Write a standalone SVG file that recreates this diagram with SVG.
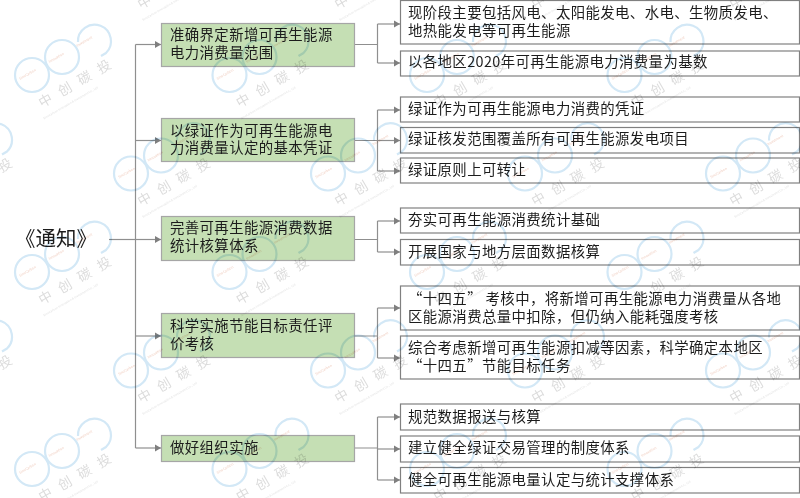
<svg xmlns="http://www.w3.org/2000/svg" xmlns:xlink="http://www.w3.org/1999/xlink" width="800" height="498" viewBox="0 0 800 498">
  <style>
    text { font-family: "Noto Sans CJK SC", "Noto Sans", sans-serif; fill: #1c1c1c; }
    .t { font-size: 14.4px; letter-spacing: 0.4px; }
    .root { font-size: 20.5px; }
    .green { fill: #c5dfb4; stroke: #a6a6a6; stroke-width: 1.2; }
    .leaf { fill: #ffffff; stroke: #808080; stroke-width: 1.2; }
    .wire { fill: none; stroke: #8f8f8f; stroke-width: 1.2; }
    .ring { fill: none; stroke: #d3e8f6; stroke-width: 2.2; }
    .mark { font-size: 13.500px; fill: #dcdcdc; letter-spacing: 9px; }
    .sub { font-size: 3px; fill: #e2e2e2; }
    .slogan { font-size: 3.400px; fill: #f0cfc2; }
    #stamps { mix-blend-mode: multiply; }
  </style>
  <defs>
    <marker id="head" markerUnits="userSpaceOnUse" markerWidth="8" markerHeight="8" refX="6.5" refY="4" orient="auto">
      <path d="M0 0.2L6.5 4L0 7.8Z" fill="#7f7f7f"/>
    </marker>
    <g id="stamp">
      <circle class="ring" cx="32" cy="75" r="17"/>
      <circle class="ring" cx="62" cy="57" r="17"/>
      <path class="ring" d="M78 42A16.5 16.5 0 1 1 106 53L101 56"/>
      <g transform="translate(42 108) rotate(-30)">
        <text class="mark" x="0" y="0">中创碳投</text>
        <text class="sub" x="-4" y="11">SinoCarbon Innovation &amp; Investment Co., Ltd</text>
      </g>
      <g transform="translate(20 80) rotate(-30)">
        <text class="slogan" x="0" y="0">SinoCarbon</text>
        <text class="slogan" x="34" y="0">Innovation</text>
        <text class="slogan" x="66" y="0">Investment</text>
      </g>
    </g>
  </defs>

  <g id="connectors" class="wire">
    <path d="M109 239.500H135.500"/>
    <path d="M135.500 44.500V448"/>
    <path d="M135.500 44.500H161" marker-end="url(#head)"/>
    <path d="M135.500 140.500H161" marker-end="url(#head)"/>
    <path d="M135.500 239.500H161" marker-end="url(#head)"/>
    <path d="M135.500 336H161" marker-end="url(#head)"/>
    <path d="M135.500 448H161" marker-end="url(#head)"/>

    <path d="M354.500 44.500H377.500M377.500 24V63"/>
    <path d="M377.500 24H400" marker-end="url(#head)"/>
    <path d="M377.500 63H400" marker-end="url(#head)"/>

    <path d="M354.500 140.500H377.500M377.500 110V171"/>
    <path d="M377.500 110H400" marker-end="url(#head)"/>
    <path d="M377.500 140.500H400" marker-end="url(#head)"/>
    <path d="M377.500 171H400" marker-end="url(#head)"/>

    <path d="M354.500 239.500H377.500M377.500 221V252"/>
    <path d="M377.500 221H400" marker-end="url(#head)"/>
    <path d="M377.500 252H400" marker-end="url(#head)"/>

    <path d="M354.500 336H377.500M377.500 308V358"/>
    <path d="M377.500 308H400" marker-end="url(#head)"/>
    <path d="M377.500 358H400" marker-end="url(#head)"/>

    <path d="M354.500 448H377.500M377.500 417V480"/>
    <path d="M377.500 417H400" marker-end="url(#head)"/>
    <path d="M377.500 449H400" marker-end="url(#head)"/>
    <path d="M377.500 480H400" marker-end="url(#head)"/>
  </g>

  <g id="root"><text class="root" x="15" y="246">《通知》</text></g>

  <g id="topic-1"><rect class="green" x="161.500" y="23.500" width="193" height="43"/>
    <text class="t" x="170" y="40">准确界定新增可再生能源</text><text class="t" x="170" y="58">电力消费量范围</text></g>
  <g id="topic-2"><rect class="green" x="161.500" y="118.500" width="193" height="43"/>
    <text class="t" x="170" y="136">以绿证作为可再生能源电</text><text class="t" x="170" y="153">力消费量认定的基本凭证</text></g>
  <g id="topic-3"><rect class="green" x="161.500" y="216.500" width="193" height="44"/>
    <text class="t" x="170" y="233">完善可再生能源消费数据</text><text class="t" x="170" y="251">统计核算体系</text></g>
  <g id="topic-4"><rect class="green" x="161.500" y="313.500" width="193" height="44"/>
    <text class="t" x="170" y="331">科学实施节能目标责任评</text><text class="t" x="170" y="349">价考核</text></g>
  <g id="topic-5"><rect class="green" x="161.500" y="435.500" width="193" height="26"/>
    <text class="t" x="170" y="453">做好组织实施</text></g>

  <g id="leaf-1"><rect class="leaf" x="400.500" y="0.500" width="399" height="43.500"/>
    <text class="t" x="408" y="18">现阶段主要包括风电、太阳能发电、水电、生物质发电、</text><text class="t" x="408" y="36">地热能发电等可再生能源</text></g>
  <g id="leaf-2"><rect class="leaf" x="400.500" y="51" width="399" height="25"/>
    <text class="t" x="408" y="67">以各地区2020年可再生能源电力消费量为基数</text></g>
  <g id="leaf-3"><rect class="leaf" x="400.500" y="97" width="399" height="25"/>
    <text class="t" x="408" y="114">绿证作为可再生能源电力消费的凭证</text></g>
  <g id="leaf-4"><rect class="leaf" x="400.500" y="127.500" width="399" height="25.500"/>
    <text class="t" x="408" y="144">绿证核发范围覆盖所有可再生能源发电项目</text></g>
  <g id="leaf-5"><rect class="leaf" x="400.500" y="158" width="399" height="25"/>
    <text class="t" x="408" y="175">绿证原则上可转让</text></g>
  <g id="leaf-6"><rect class="leaf" x="400.500" y="208" width="399" height="25"/>
    <text class="t" x="408" y="225">夯实可再生能源消费统计基础</text></g>
  <g id="leaf-7"><rect class="leaf" x="400.500" y="239.500" width="399" height="25.500"/>
    <text class="t" x="408" y="257">开展国家与地方层面数据核算</text></g>
  <g id="leaf-8"><rect class="leaf" x="400.500" y="286" width="399" height="44"/>
    <text class="t" x="408" y="304">“十四五” 考核中，将新增可再生能源电力消费量从各地</text><text class="t" x="408" y="322">区能源消费总量中扣除，但仍纳入能耗强度考核</text></g>
  <g id="leaf-9"><rect class="leaf" x="400.500" y="336" width="399" height="43"/>
    <text class="t" x="408" y="353">综合考虑新增可再生能源扣减等因素，科学确定本地区</text><text class="t" x="408" y="371">“十四五”节能目标任务</text></g>
  <g id="leaf-10"><rect class="leaf" x="400.500" y="404" width="399" height="26"/>
    <text class="t" x="408" y="422">规范数据报送与核算</text></g>
  <g id="leaf-11"><rect class="leaf" x="400.500" y="436" width="399" height="26"/>
    <text class="t" x="408" y="453">建立健全绿证交易管理的制度体系</text></g>
  <g id="leaf-12"><rect class="leaf" x="400.500" y="467.500" width="399" height="25.500"/>
    <text class="t" x="408" y="485">健全可再生能源电量认定与统计支撑体系</text></g>

  <!-- repeating company stamp laid over the chart -->
  <g id="stamps">
    <use xlink:href="#stamp" href="#stamp" x="99" y="-98.500"/>
    <use xlink:href="#stamp" href="#stamp" x="296" y="-98.500"/>
    <use xlink:href="#stamp" href="#stamp" x="493" y="-98.500"/>
    <use xlink:href="#stamp" href="#stamp" x="691" y="-98.500"/>
    <use xlink:href="#stamp" href="#stamp" x="0" y="0"/>
    <use xlink:href="#stamp" href="#stamp" x="197.500" y="0"/>
    <use xlink:href="#stamp" href="#stamp" x="395" y="0"/>
    <use xlink:href="#stamp" href="#stamp" x="592.500" y="0"/>
    <use xlink:href="#stamp" href="#stamp" x="-99" y="98.500"/>
    <use xlink:href="#stamp" href="#stamp" x="99" y="98.500"/>
    <use xlink:href="#stamp" href="#stamp" x="296" y="98.500"/>
    <use xlink:href="#stamp" href="#stamp" x="493" y="98.500"/>
    <use xlink:href="#stamp" href="#stamp" x="691" y="98.500"/>
    <use xlink:href="#stamp" href="#stamp" x="0" y="197"/>
    <use xlink:href="#stamp" href="#stamp" x="197.500" y="197"/>
    <use xlink:href="#stamp" href="#stamp" x="395" y="197"/>
    <use xlink:href="#stamp" href="#stamp" x="592.500" y="197"/>
    <use xlink:href="#stamp" href="#stamp" x="-99" y="295.500"/>
    <use xlink:href="#stamp" href="#stamp" x="99" y="295.500"/>
    <use xlink:href="#stamp" href="#stamp" x="296" y="295.500"/>
    <use xlink:href="#stamp" href="#stamp" x="493" y="295.500"/>
    <use xlink:href="#stamp" href="#stamp" x="691" y="295.500"/>
    <use xlink:href="#stamp" href="#stamp" x="0" y="394"/>
    <use xlink:href="#stamp" href="#stamp" x="197.500" y="394"/>
    <use xlink:href="#stamp" href="#stamp" x="395" y="394"/>
    <use xlink:href="#stamp" href="#stamp" x="592.500" y="394"/>
  </g>
</svg>
